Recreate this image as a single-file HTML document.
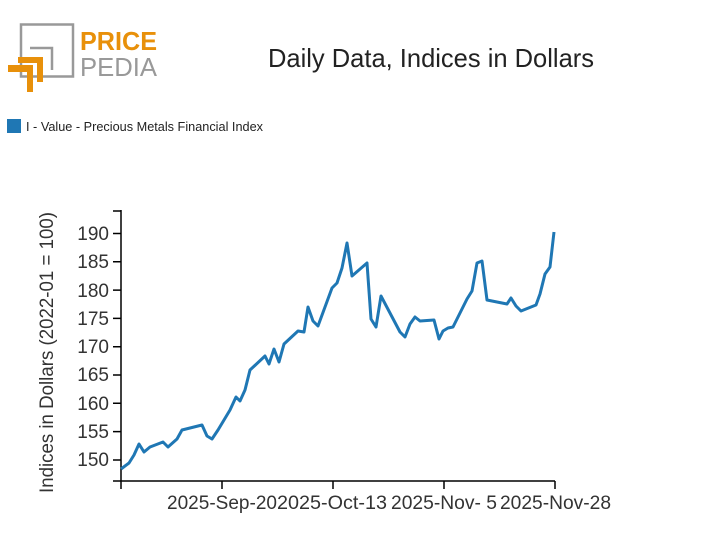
<!DOCTYPE html>
<html><head><meta charset="utf-8"><style>body{margin:0;background:#fff}svg{display:block}</style></head>
<body>
<svg width="712" height="555" xmlns="http://www.w3.org/2000/svg" font-family="Liberation Sans, sans-serif">
<rect width="712" height="555" fill="#fff"/>
<!-- logo -->
<rect x="21" y="24.5" width="52" height="52" fill="none" stroke="#999" stroke-width="2.5"/>
<path d="M30 48 H52 V70" fill="none" stroke="#999" stroke-width="2.5"/>
<path d="M18 57 H43 V82 H37 V63 H18 Z" fill="#e8900a"/>
<path d="M8 65 H33 V92 H27 V72 H8 Z" fill="#e8900a"/>
<text x="80" y="50" font-size="26" font-weight="bold" fill="#e8900a" textLength="77" lengthAdjust="spacingAndGlyphs">PRICE</text>
<text x="80" y="76" font-size="26" fill="#999" textLength="77" lengthAdjust="spacingAndGlyphs">PEDIA</text>
<text x="268" y="67" font-size="26" fill="#222" textLength="326" lengthAdjust="spacingAndGlyphs">Daily Data, Indices in Dollars</text>
<rect x="7" y="119" width="14" height="14" fill="#1f77b4"/>
<text x="26" y="131" font-size="13" fill="#222" textLength="237" lengthAdjust="spacingAndGlyphs">I - Value - Precious Metals Financial Index</text>
<!-- axes -->
<g stroke="#000" stroke-width="1.5" fill="none">
<path d="M121 210 V481 H555"/>
<path d="M113 211 H121 M113 233.5 H121 M113 261.8 H121 M113 290.1 H121 M113 318.4 H121 M113 346.7 H121 M113 375 H121 M113 403.3 H121 M113 431.6 H121 M113 460 H121 M113 481 H121"/>
<path d="M121 481 V489 M222 481 V489 M333 481 V489 M444 481 V489 M555 481 V489"/>
</g>
<g font-size="19" fill="#333" text-anchor="end">
<text x="109" y="240">190</text><text x="109" y="268">185</text><text x="109" y="297">180</text><text x="109" y="325">175</text><text x="109" y="353">170</text><text x="109" y="381">165</text><text x="109" y="410">160</text><text x="109" y="438">155</text><text x="109" y="466">150</text>
</g>
<g font-size="19" fill="#333">
<text x="167" y="509" textLength="110" lengthAdjust="spacingAndGlyphs">2025-Sep-20</text>
<text x="277" y="509" textLength="110" lengthAdjust="spacingAndGlyphs">2025-Oct-13</text>
<text x="391" y="509" textLength="106" lengthAdjust="spacingAndGlyphs">2025-Nov- 5</text>
<text x="500" y="509" textLength="111" lengthAdjust="spacingAndGlyphs">2025-Nov-28</text>
</g>
<text transform="translate(53,493) rotate(-90)" font-size="19" fill="#333" textLength="281" lengthAdjust="spacingAndGlyphs">Indices in Dollars (2022-01 = 100)</text>
<polyline fill="none" stroke="#1f77b4" stroke-width="3" stroke-linejoin="round" points="121,469 129,463 134,455 139,444 144,452 150,447 163,442 168,447 177,439 182,430 202,425 207,436 212,439 218,430 230,410 236,397 240,401 245,390 250,370 265,356 269,364 274,349 279,362 284,344 298,331 304,332 308,307 313,321 318,326 332,288 337,283 342,268 347,243 352,276 367,263 371,319 376,327 381,296 400,332 405,337 410,324 415,317 420,321 434,320 439,339 443,331 448,328 453,327 467,299 472,291 477,263 482,261 487,300 507,304 511,298 516,306 521,311 536,305 540,294 545,274 550,267 554,232"/>
</svg>
</body></html>
